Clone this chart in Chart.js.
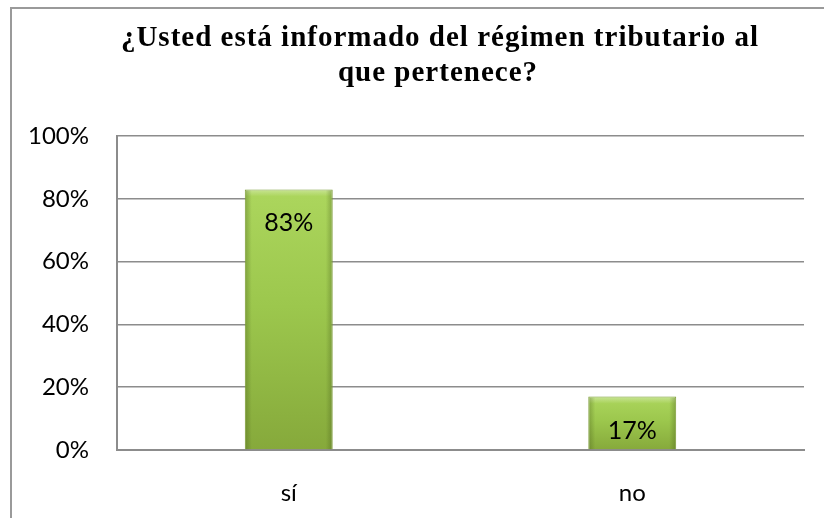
<!DOCTYPE html>
<html>
<head>
<meta charset="utf-8">
<script src="https://cdn.jsdelivr.net/npm/chart.js@4/dist/chart.umd.min.js"></script>
<style>
    html, body { margin: 0; padding: 0; background: #fff; }
    #frame {
        position: absolute; left: 10px; top: 7px;
        width: 840px; height: 540px;
        border: 2px solid #9a9a9a;
    }
    #wrap { position: absolute; left: 0; top: 0; width: 824px; height: 518px; }
</style>
</head>
<body>
<div id="frame"></div>
<div id="wrap"><canvas id="taxChart" width="824" height="518"></canvas></div>
<script>
// Chart data
const categories = ['sí', 'no'];
const percentValues = [83, 17];
const yTicks = [0, 20, 40, 60, 80, 100];
const titleLines = ['¿Usted está informado del régimen tributario al', 'que pertenece?'];

document.addEventListener('DOMContentLoaded', function() {
    const canvas = document.getElementById('taxChart');

    // Per-bar vertical gradient, light at the top, darker at the base
    function barGradient(context) {
        const chart = context.chart;
        const yScale = chart.scales.y;
        if (!chart.chartArea || !yScale) return '#9cc64c';
        const top = yScale.getPixelForValue(context.raw);
        const base = yScale.getPixelForValue(0);
        const g = chart.ctx.createLinearGradient(0, top, 0, base);
        g.addColorStop(0, '#acd65d');
        g.addColorStop(0.45, '#9cc74d');
        g.addColorStop(1, '#86a93b');
        return g;
    }

    // Title drawn by hand so the letter spacing can be set
    const chartTitle = {
        id: 'chartTitle',
        afterDraw(chart) {
            const ctx = chart.ctx;
            ctx.save();
            ctx.font = 'bold 29px "Liberation Serif"';
            ctx.letterSpacing = '1px';
            ctx.fillStyle = '#000';
            ctx.textAlign = 'center';
            ctx.textBaseline = 'alphabetic';
            ctx.fillText(titleLines[0], 440, 46);
            ctx.fillText(titleLines[1], 438, 81);
            ctx.restore();
        }
    };

    // Bevel shading on the bars and the value inside each bar
    const valueLabels = {
        id: 'valueLabels',
        afterDatasetsDraw(chart) {
            const ctx = chart.ctx;
            const meta = chart.getDatasetMeta(0);
            ctx.save();
            meta.data.forEach((bar, i) => {
                const left = bar.x - bar.width / 2;
                const right = bar.x + bar.width / 2;
                const edge = 7;
                // top highlight
                let g = ctx.createLinearGradient(0, bar.y, 0, bar.y + edge);
                g.addColorStop(0, 'rgba(255,255,255,0.35)');
                g.addColorStop(1, 'rgba(255,255,255,0)');
                ctx.fillStyle = g;
                ctx.fillRect(left + 1, bar.y + 1, bar.width - 2, edge);
                // darker sides
                g = ctx.createLinearGradient(left, 0, left + edge, 0);
                g.addColorStop(0, 'rgba(60,80,20,0.35)');
                g.addColorStop(1, 'rgba(60,80,20,0)');
                ctx.fillStyle = g;
                ctx.fillRect(left + 1, bar.y + 1, edge, bar.base - bar.y - 1);
                g = ctx.createLinearGradient(right, 0, right - edge, 0);
                g.addColorStop(0, 'rgba(60,80,20,0.35)');
                g.addColorStop(1, 'rgba(60,80,20,0)');
                ctx.fillStyle = g;
                ctx.fillRect(right - edge - 1, bar.y + 1, edge, bar.base - bar.y - 1);
            });
            ctx.font = '25px Lato';
            ctx.fillStyle = '#000';
            ctx.textAlign = 'center';
            ctx.textBaseline = 'middle';
            meta.data.forEach((bar, i) => {
                ctx.fillText(percentValues[i] + '%', bar.x, bar.y + 34);
            });
            ctx.restore();
        }
    };

    new Chart(canvas, {
        type: 'bar',
        data: {
            labels: categories,
            datasets: [{
                data: percentValues,
                backgroundColor: barGradient,
                borderColor: '#7a9a34',
                borderWidth: 1,
                categoryPercentage: 1,
                barPercentage: 0.256
            }]
        },
        options: {
            responsive: false,
            animation: false,
            layout: { padding: { left: 0, right: 20, top: 136, bottom: 0 } },
            plugins: {
                legend: { display: false },
                tooltip: { enabled: false },
                title: { display: false }
            },
            scales: {
                x: {
                    afterFit: scale => { scale.height = 68; },
                    grid: { display: false, drawTicks: false },
                    border: { display: true, color: '#8c8c8c', width: 2 },
                    ticks: { color: '#000', font: { family: 'Lato', size: 24 }, padding: 29 }
                },
                y: {
                    min: 0,
                    max: 100,
                    afterFit: scale => { scale.width = 117; },
                    afterBuildTicks: axis => { axis.ticks = yTicks.map(v => ({ value: v })); },
                    grid: { color: '#8c8c8c', lineWidth: 1.5, drawTicks: false },
                    border: { display: true, color: '#8c8c8c', width: 2 },
                    ticks: {
                        color: '#000',
                        font: { family: 'Lato', size: 24 },
                        padding: 28,
                        callback: v => v + '%'
                    }
                }
            }
        },
        plugins: [valueLabels, chartTitle]
    });
});
</script>
</body>
</html>
